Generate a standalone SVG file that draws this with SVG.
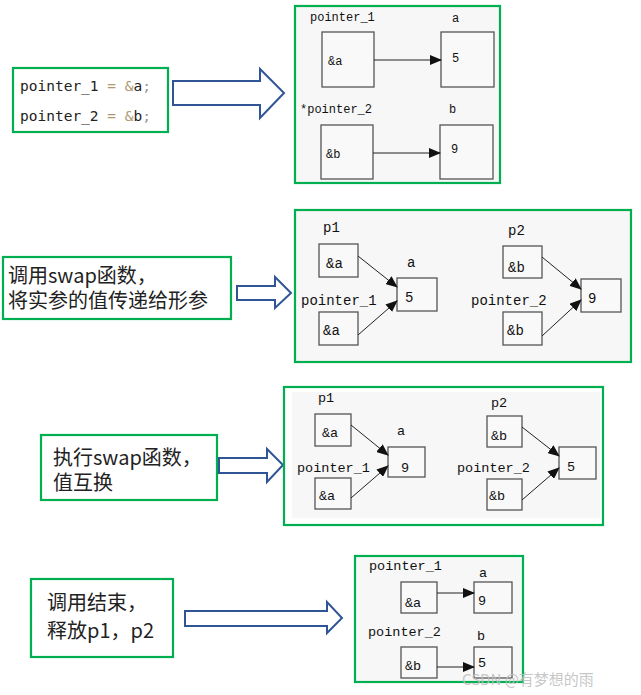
<svg xmlns="http://www.w3.org/2000/svg" width="641" height="695" viewBox="0 0 641 695">
<style>
.grn{fill:none;stroke:#00b050;stroke-width:2.2}
.bg{fill:#f7f7f7}
.blk{fill:#fff;stroke:#2f5597;stroke-width:2}
.box{fill:#f9f9f9;stroke:#555;stroke-width:1.3}
.cn{stroke:#222;stroke-width:1;fill:none;marker-end:url(#ah)}
.m{font-family:"Liberation Mono","DejaVu Sans Mono",monospace;fill:#111}
.cjk{font-family:"Noto Sans CJK SC","Noto Sans",sans-serif;font-size:20px;fill:#222}
.code{font-family:"DejaVu Sans Mono","Liberation Mono",monospace;font-size:14.5px;fill:#222}
</style>
<defs>
<marker id="ah" markerWidth="12" markerHeight="10" refX="11" refY="5" orient="auto" markerUnits="userSpaceOnUse">
<path d="M0,0 L12,5 L0,10 Z" fill="#111"/>
</marker>
</defs>
<rect width="641" height="695" fill="#fff"/>

<!-- Panel 1 -->
<g id="step1-text">
<rect x="13" y="68" width="155" height="64" fill="#f5f5f5" class="grn"/>
<text class="code" x="20" y="91">pointer_1 <tspan fill="#b09870">= &amp;</tspan>a<tspan fill="#999">;</tspan></text>
<text class="code" x="20" y="121">pointer_2 <tspan fill="#b09870">= &amp;</tspan>b<tspan fill="#999">;</tspan></text>
</g>
<g id="arrow1"><polygon class="blk" points="173,81 260,81 260,69 284,93 260,118 260,105 173,105"/></g>
<g id="step1-diagram">
<rect x="295" y="6" width="205" height="177" class="bg"/>
<rect x="295" y="6" width="205" height="177" class="grn"/>
<g class="m" font-size="12">
<text x="310" y="21">pointer_1</text>
<text x="452" y="22">a</text>
<text x="300" y="113">*pointer_2</text>
<text x="449" y="113">b</text>
</g>
<g id="p1-box-a"><rect class="box" x="322" y="32" width="52" height="55"/><text class="m" font-size="12" x="328" y="65">&amp;a</text></g>
<g id="p1-box-5"><rect class="box" x="441" y="32" width="53" height="55"/><text class="m" font-size="12" x="452" y="62">5</text></g>
<g id="p1-box-b"><rect class="box" x="321" y="125" width="52" height="54"/><text class="m" font-size="12" x="326" y="158">&amp;b</text></g>
<g id="p1-box-9"><rect class="box" x="440" y="125" width="53" height="54"/><text class="m" font-size="12" x="451" y="153">9</text></g>
</g>

<!-- Panel 2 -->
<g id="step2-text">
<rect x="3" y="257" width="228" height="62" class="grn"/>
<text class="cjk" x="8" y="283">调用swap函数，</text>
<text class="cjk" x="8" y="308">将实参的值传递给形参</text>
</g>
<g id="arrow2"><polygon class="blk" points="237,286 275,286 275,277 291,293 275,308 275,300 237,300"/></g>
<g id="step2-diagram">
<rect x="295" y="210" width="336" height="152" class="bg"/>
<rect x="295" y="210" width="336" height="152" class="grn"/>
<g class="m" font-size="14">
<text x="323" y="232">p1</text>
<text x="407" y="267">a</text>
<text x="301" y="305">pointer_1</text>
<text x="508" y="235">p2</text>
<text x="471" y="305">pointer_2</text>
</g>
<g id="s2-p1"><rect class="box" x="319" y="244" width="39" height="33"/><text class="m" font-size="14" x="326" y="268">&amp;a</text></g>
<g id="s2-a"><rect class="box" x="397" y="278" width="40" height="33"/><text class="m" font-size="14" x="405" y="302">5</text></g>
<g id="s2-ptr1"><rect class="box" x="319" y="312" width="39" height="33"/><text class="m" font-size="14" x="323" y="335">&amp;a</text></g>
<g id="s2-p2"><rect class="box" x="503" y="246" width="39" height="32"/><text class="m" font-size="14" x="508" y="272">&amp;b</text></g>
<g id="s2-b"><rect class="box" x="581" y="279" width="40" height="33"/><text class="m" font-size="14" x="588" y="303">9</text></g>
<g id="s2-ptr2"><rect class="box" x="503" y="312" width="39" height="33"/><text class="m" font-size="14" x="507" y="335">&amp;b</text></g>
</g>

<!-- Panel 3 -->
<g id="step3-text">
<rect x="41" y="435" width="176" height="65" class="grn"/>
<text class="cjk" x="53" y="465">执行swap函数，</text>
<text class="cjk" x="53" y="490">值互换</text>
</g>
<g id="arrow3"><polygon class="blk" points="219,458 267,458 267,449 283,465 267,482 267,473 219,473"/></g>
<g id="step3-diagram">
<rect x="292" y="392" width="308" height="126" class="bg"/>
<rect x="284" y="387" width="319" height="138" class="grn"/>
<g class="m" font-size="13.5">
<text x="318" y="402">p1</text>
<text x="397" y="435">a</text>
<text x="297" y="472">pointer_1</text>
<text x="491" y="407">p2</text>
<text x="457" y="472">pointer_2</text>
</g>
<g id="s3-p1"><rect class="box" x="315" y="414" width="36" height="32"/><text class="m" font-size="13.5" x="322" y="437">&amp;a</text></g>
<g id="s3-a"><rect class="box" x="388" y="447" width="37" height="30"/><text class="m" font-size="13.5" x="401" y="472">9</text></g>
<g id="s3-ptr1"><rect class="box" x="315" y="478" width="36" height="31"/><text class="m" font-size="13.5" x="319" y="500">&amp;a</text></g>
<g id="s3-p2"><rect class="box" x="487" y="416" width="35" height="31"/><text class="m" font-size="13.5" x="491" y="440">&amp;b</text></g>
<g id="s3-b"><rect class="box" x="559" y="447" width="37" height="32"/><text class="m" font-size="13.5" x="567" y="471">5</text></g>
<g id="s3-ptr2"><rect class="box" x="487" y="479" width="35" height="31"/><text class="m" font-size="13.5" x="489" y="500">&amp;b</text></g>
</g>

<!-- Panel 4 -->
<g id="step4-text">
<rect x="31" y="579" width="142" height="78" class="grn"/>
<text class="cjk" x="47" y="610">调用结束，</text>
<text class="cjk" x="47" y="638">释放p1，p2</text>
</g>
<g id="arrow4"><polygon class="blk" points="185,611 327,611 327,602 342,618 327,633 327,626 185,626"/></g>
<g id="step4-diagram">
<rect x="355" y="556" width="168" height="126" class="bg"/>
<rect x="355" y="556" width="168" height="126" class="grn"/>
<g class="m" font-size="13.5">
<text x="369" y="570">pointer_1</text>
<text x="479" y="577">a</text>
<text x="368" y="636">pointer_2</text>
<text x="477" y="640">b</text>
</g>
<g id="s4-p1"><rect class="box" x="401" y="582" width="36" height="31"/><text class="m" font-size="13.5" x="405" y="607">&amp;a</text></g>
<g id="s4-a"><rect class="box" x="474" y="582" width="38" height="31"/><text class="m" font-size="13.5" x="478" y="605">9</text></g>
<g id="s4-p2"><rect class="box" x="401" y="647" width="36" height="31"/><text class="m" font-size="13.5" x="405" y="670">&amp;b</text></g>
<g id="s4-b"><rect class="box" x="474" y="647" width="38" height="31"/><text class="m" font-size="13.5" x="478" y="667">5</text></g>
</g>

<g id="connectors">
<line class="cn" x1="374" y1="60" x2="441" y2="60"/>
<line class="cn" x1="373" y1="153" x2="440" y2="153"/>
<line class="cn" x1="358" y1="256" x2="397" y2="287"/>
<line class="cn" x1="358" y1="335" x2="397" y2="301"/>
<line class="cn" x1="542" y1="257" x2="581" y2="289"/>
<line class="cn" x1="542" y1="336" x2="581" y2="300"/>
<line class="cn" x1="351" y1="425" x2="388" y2="455"/>
<line class="cn" x1="351" y1="498" x2="388" y2="466"/>
<line class="cn" x1="522" y1="427" x2="559" y2="456"/>
<line class="cn" x1="522" y1="500" x2="559" y2="468"/>
<line class="cn" x1="437" y1="593" x2="474" y2="593"/>
<line class="cn" x1="437" y1="667" x2="474" y2="667"/>
</g>

<text x="462" y="685" font-family="Noto Sans CJK SC, 'Noto Sans', sans-serif" font-size="15" fill="#c0c0c0" fill-opacity="0.9">CSDN @有梦想的雨</text>
</svg>
